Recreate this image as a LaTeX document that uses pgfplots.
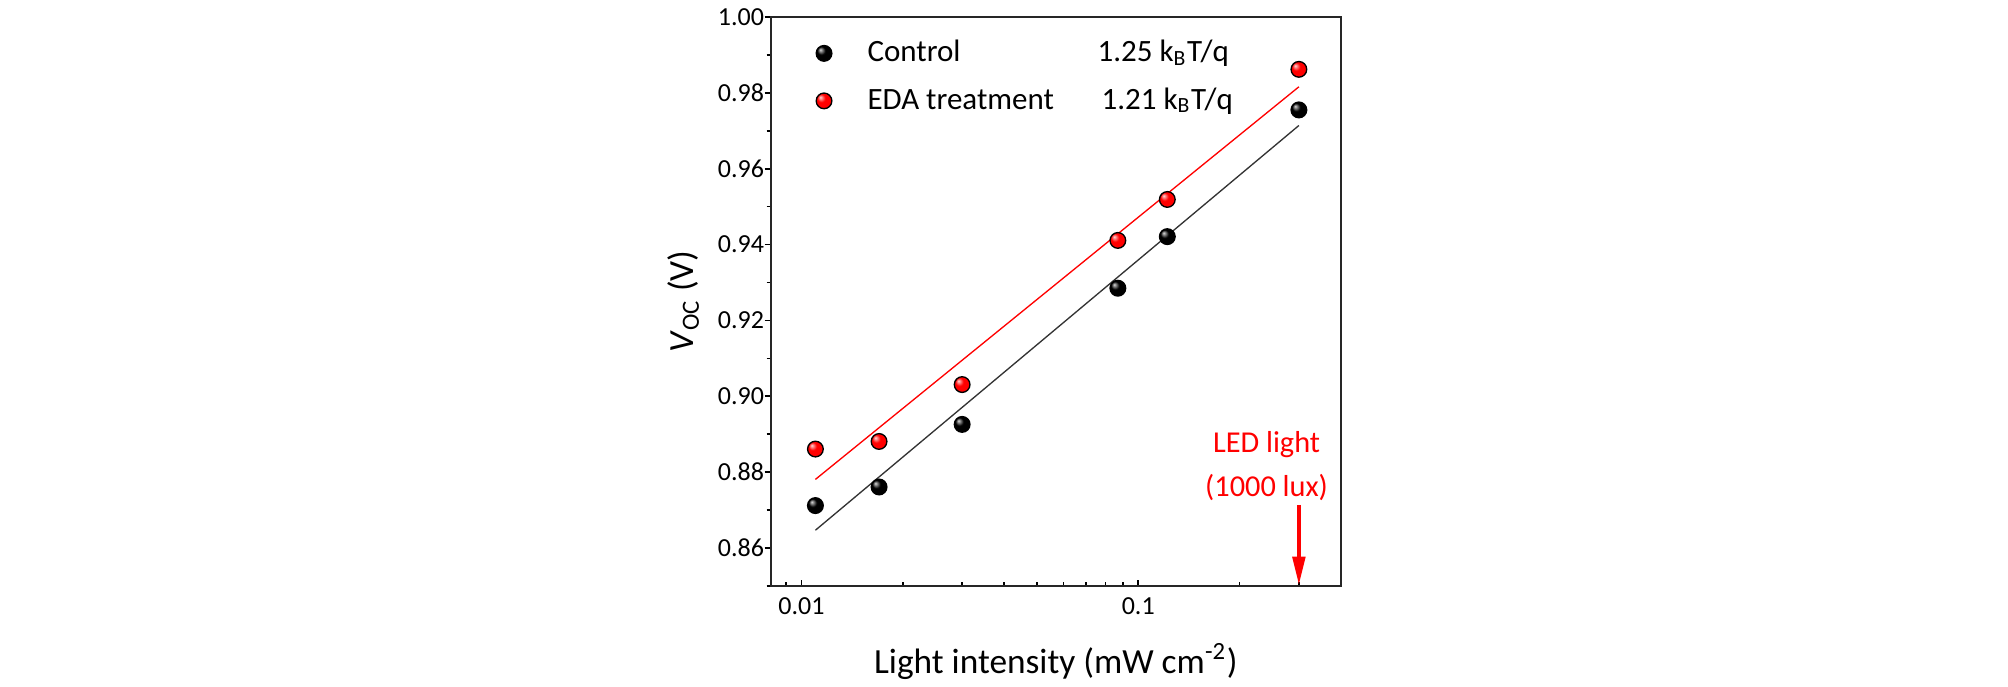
\documentclass[border=0pt]{standalone}
\usepackage{pgfplots}
\pgfplotsset{compat=1.18}
\usepackage{fontspec}
\setmainfont{Carlito}
\usetikzlibrary{arrows.meta}
\makeatletter
\pgfdeclareradialshading[tikz@ball]{ball}{\pgfqpoint{-12bp}{12bp}}{%
  color(0bp)=(tikz@ball!15!white);
  color(6bp)=(tikz@ball!55!white);
  color(13bp)=(tikz@ball);
  color(38bp)=(tikz@ball);
  color(50bp)=(tikz@ball!75!black)}
\makeatother
\begin{document}
\begin{tikzpicture}
\path[use as bounding box] (-231.2pt,-30.3pt) rectangle (371.2pt,175.8pt);
\begin{axis}[
  at={(0,0)}, anchor=south west,
  scale only axis, width=171.1pt, height=170.7pt,
  xmode=log, xmin=0.0081, xmax=0.4, ymin=0.85, ymax=1.00,
  axis line style={line width=0.6pt, black!85},
  xtick={0.01,0.1}, xticklabels={0.01,0.1},
  minor xtick={0.009,0.02,0.03,0.04,0.05,0.06,0.07,0.08,0.09,0.2,0.3,0.4},
  ytick={0.86,0.88,0.90,0.92,0.94,0.96,0.98,1.00},
  yticklabels={0.86,0.88,0.90,0.92,0.94,0.96,0.98,1.00},
  minor ytick={0.85,0.87,0.89,0.91,0.93,0.95,0.97,0.99},
  xtick pos=bottom, ytick pos=left,
  xtick align=inside, ytick align=outside,
  major tick length=1.8pt, minor tick length=1.2pt,
  tick style={line width=0.5pt, black},
  ticklabel style={font=\fontsize{7.8}{9}\selectfont},
  xticklabel style={anchor=north, inner sep=0pt, yshift=-3.3pt},
  yticklabel style={anchor=east, inner sep=0pt},
  xlabel={Light intensity (mW cm\textsuperscript{-2})},
  ylabel={\textit{V}\textsubscript{OC} (V)},
  label style={font=\fontsize{10.6}{12}\selectfont},
  xlabel style={at={([yshift=-26.1pt]axis description cs:0.5,0)}, anchor=base},
  ylabel style={at={([xshift=-23.2pt]axis description cs:0,0.5)}, anchor=base},
  legend style={draw=none, fill=none, at={(0.06,0.984)}, anchor=north west,
    font=\fontsize{9.3}{11}\selectfont, row sep=2.3pt,
    /tikz/every odd column/.append style={column sep=8.5pt}},
  legend cell align=left,
  clip=false,
]
\addplot[only marks, mark=ball, mark size=2.35pt, mark options={ball color=black}, ball color=black]
  coordinates {(0.011,0.8712) (0.017,0.8761) (0.030,0.8926) (0.087,0.9285) (0.122,0.9421) (0.30,0.9755)};
\addlegendentry{\makebox[69pt][l]{Control}1.25 k\textsubscript{B}T/q}
\addplot[only marks, mark=ball, mark size=2.35pt, mark options={ball color=red}, ball color=red]
  coordinates {(0.011,0.8861) (0.017,0.8881) (0.030,0.9031) (0.087,0.9411) (0.122,0.9519) (0.30,0.9862)};
\addlegendentry{\makebox[70.2pt][l]{EDA treatment}1.21 k\textsubscript{B}T/q}
\addplot[black!80, line width=0.4pt, forget plot] coordinates {(0.011,0.8647) (0.30,0.9714)};
\addplot[red, line width=0.4pt, forget plot] coordinates {(0.011,0.8781) (0.30,0.9816)};
\node[red, font=\fontsize{9.1}{10}\selectfont, anchor=base, inner sep=0pt] at (axis cs:0.2405,0.8851) {LED light};
\node[red, font=\fontsize{9.1}{10}\selectfont, anchor=base, inner sep=0pt] at (axis cs:0.2405,0.8735) {(1000 lux)};
\draw[red, line width=1pt, -{Triangle[width=3.8pt,length=8.5pt]}] (axis cs:0.3,0.8714) -- (axis cs:0.3,0.8503);
\end{axis}
\end{tikzpicture}
\end{document}
